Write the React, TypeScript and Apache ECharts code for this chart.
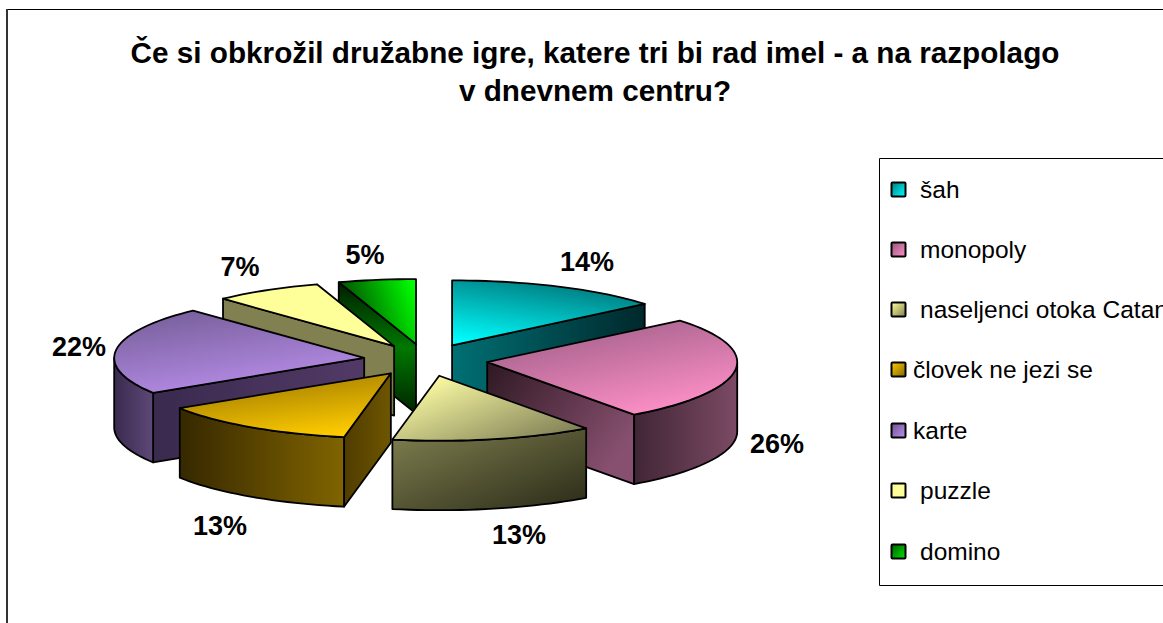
import React, { useEffect, useRef } from "react";
import * as echarts from "echarts";

const TITLE = "Če si obkrožil družabne igre, katere tri bi rad imel - a na razpolago\nv dnevnem centru?";
const CATEGORIES = ["šah", "monopoly", "naseljenci otoka Catan", "človek ne jezi se", "karte", "puzzle", "domino"];
const VALUES = [14, 26, 13, 13, 22, 7, 5];

// layout of the drawing (not data)
const CX = 425.7, CY = 360, RX = 250, RY = 65, EXPLODE = 62, DEPTH = 69.5;
const LABEL_POS = [[587, 262], [777, 444], [519, 535], [220, 526], [79, 347], [240, 267], [365, 255]];
const LEGEND_TEXT_X = [920, 920, 920, 913, 913, 920, 920];
const LEGEND_Y = [189.5, 249.5, 309.5, 369.5, 430.5, 490.5, 551.5];

type G = [number, number, number, number, string[]];
const TOP_GRAD: G[] = [
  [0.6, 0, 0.15, 1, ["#00787c", "#00ffff"]],
  [0.15, 0, 0.7, 1, ["#9a5c84", "#ff90c8"]],
  [0.1, 0.1, 0.95, 0.8, ["#ffffa6", "#85855a"]],
  [0.2, 0, 0.65, 1, ["#987400", "#ffcc00"]],
  [0.25, 0, 0.7, 1, ["#78609c", "#bc90ee"]],
  [0, 0, 1, 1, ["#ffff99", "#ffff99"]],
  [0, 0.5, 1, 0.2, ["#003c00", "#00ff00"]],
];
const CUT_GRAD: G[] = [
  [0, 0, 1, 0, ["#007074", "#00282c"]],
  [0, 0, 1, 0.6, ["#2e1822", "#885070"]],
  [0, 0, 1, 0, ["#808050", "#808050"]],
  [0, 0, 1, 0, ["#503c00", "#6e5600"]],
  [0, 0, 1, 0, ["#3a2a4e", "#523a66"]],
  [0, 0, 1, 0, ["#808050", "#808050"]],
  [0, 0, 0, 1, ["#001e00", "#007800", "#002400"]],
];
const OUTER_GRAD: G[] = [
  [0, 0, 1, 0, ["#000000", "#000000"]],
  [0, 0, 1, 0, ["#402636", "#7c4a64"]],
  [0, 0, 1, 1, ["#808050", "#2a2a18"]],
  [0, 0, 1, 0, ["#362800", "#806400"]],
  [0, 0, 1, 0, ["#3a2a4e", "#5e4878"]],
  [0, 0, 1, 0, ["#000000", "#000000"]],
  [0, 0, 1, 0, ["#000000", "#000000"]],
];
const KEY_GRAD: string[][] = [
  ["#007c80", "#00ffff"],
  ["#94587c", "#ff90c8"],
  ["#ffff99", "#808050"],
  ["#ffcc00", "#806600"],
  ["#6e5290", "#bc90ee"],
  ["#ffff99", "#ffff99"],
  ["#006000", "#00e000"],
];

const TOTAL = VALUES.reduce((a, b) => a + b, 0);
const rad = (d: number) => (d * Math.PI) / 180;

function grad(g: G) {
  const stops = g[4].map((color, i) => ({ offset: i / (g[4].length - 1), color }));
  return new echarts.graphic.LinearGradient(g[0], g[1], g[2], g[3], stops);
}

function arc(ax: number, ay: number, a0: number, a1: number, dy = 0) {
  const pts: number[][] = [];
  const n = Math.max(2, Math.ceil(Math.abs(a1 - a0) / 2));
  for (let i = 0; i <= n; i++) {
    const a = rad(a0 + ((a1 - a0) * i) / n);
    pts.push([ax + RX * Math.sin(a), ay - RY * Math.cos(a) + dy]);
  }
  return pts;
}

function renderSlice(params: any, api: any) {
  const idx = params.dataIndex;
  let before = 0;
  for (let i = 0; i < idx; i++) before += VALUES[i];
  const val = api.value(0) as number;
  const a0 = (before / TOTAL) * 360;
  const a1 = ((before + val) / TOTAL) * 360;
  const mid = rad((a0 + a1) / 2);
  const ax = CX + EXPLODE * Math.sin(mid);
  const ay = CY - (EXPLODE * RY * Math.cos(mid)) / RX;
  const zBase = Math.round((1 - Math.cos(mid)) * 100) * 10;
  const line = { stroke: "#000", lineWidth: 1.8, lineJoin: "round" };
  const children: any[] = [];
  const poly = (points: number[][], g: G, z: number) =>
    children.push({ type: "polygon", z2: zBase + z, shape: { points }, style: { ...line, fill: grad(g) } });

  const start = arc(ax, ay, a0, a0)[0];
  const end = arc(ax, ay, a1, a1)[0];
  if (Math.sin(rad(a0)) < -1e-6) {
    poly([[ax, ay], start, [start[0], start[1] + DEPTH], [ax, ay + DEPTH]], CUT_GRAD[idx], 1);
  }
  if (Math.sin(rad(a1)) > 1e-6) {
    poly([[ax, ay], end, [end[0], end[1] + DEPTH], [ax, ay + DEPTH]], CUT_GRAD[idx], 1);
  }
  const o0 = Math.max(a0, 90);
  const o1 = Math.min(a1, 270);
  if (o1 > o0) {
    const up = arc(ax, ay, o0, o1);
    const down = arc(ax, ay, o0, o1, DEPTH).reverse();
    poly([...up, ...down], OUTER_GRAD[idx], 2);
  }
  poly([[ax, ay], ...arc(ax, ay, a0, a1)], TOP_GRAD[idx], 3);
  children.push({
    type: "text",
    z2: 9000,
    x: LABEL_POS[idx][0],
    y: LABEL_POS[idx][1],
    style: {
      text: `${val}%`,
      fill: "#000",
      font: "bold 27px 'Liberation Sans', Arial, sans-serif",
      align: "center",
      verticalAlign: "middle",
    },
  });
  return { type: "group", children };
}

export default function App() {
  const ref = useRef<HTMLDivElement>(null);
  useEffect(() => {
    const chart = echarts.init(ref.current!, null, { renderer: "svg" });
    const frameStyle = { stroke: "#000", lineWidth: 1 };
    const legendEls: any[] = [];
    CATEGORIES.forEach((name, i) => {
      legendEls.push({
        type: "rect",
        shape: { x: 891.5, y: LEGEND_Y[i] - 7, width: 14, height: 14, r: 1 },
        style: {
          fill: new echarts.graphic.LinearGradient(0, 0, 1, 1, [
            { offset: 0, color: KEY_GRAD[i][0] },
            { offset: 1, color: KEY_GRAD[i][1] },
          ]),
          stroke: "#000",
          lineWidth: 2,
        },
      });
      legendEls.push({
        type: "text",
        x: LEGEND_TEXT_X[i],
        y: LEGEND_Y[i],
        style: {
          text: name,
          fill: "#000",
          font: "24.5px 'Liberation Sans', Arial, sans-serif",
          align: "left",
          verticalAlign: "middle",
        },
      });
    });
    chart.setOption({
      animation: false,
      backgroundColor: "#fff",
      title: {
        text: TITLE,
        left: 590,
        top: 29,
        textAlign: "center",
        textStyle: {
          fontFamily: "'Liberation Sans', Arial, sans-serif",
          fontWeight: "bold",
          fontSize: 29.7,
          lineHeight: 37.5,
          color: "#000",
        },
      },
      graphic: [
        { type: "line", shape: { x1: 7, y1: 9.5, x2: 1163, y2: 9.5 }, style: frameStyle },
        { type: "line", shape: { x1: 7, y1: 9, x2: 7, y2: 623 }, style: { stroke: "#333", lineWidth: 2 } },
        { type: "rect", shape: { x: 879.5, y: 158.5, width: 300, height: 427 }, style: { fill: "#fff", stroke: "#000", lineWidth: 1 } },
        ...legendEls,
      ],
      series: [
        {
          type: "custom",
          coordinateSystem: "none",
          renderItem: renderSlice,
          data: VALUES.map((v, i) => ({ name: CATEGORIES[i], value: [v] })),
          silent: true,
        },
      ],
    });
    return () => chart.dispose();
  }, []);
  return <div ref={ref} style={{ position: "absolute", left: 0, top: 0, width: 1163, height: 623 }} />;
}
